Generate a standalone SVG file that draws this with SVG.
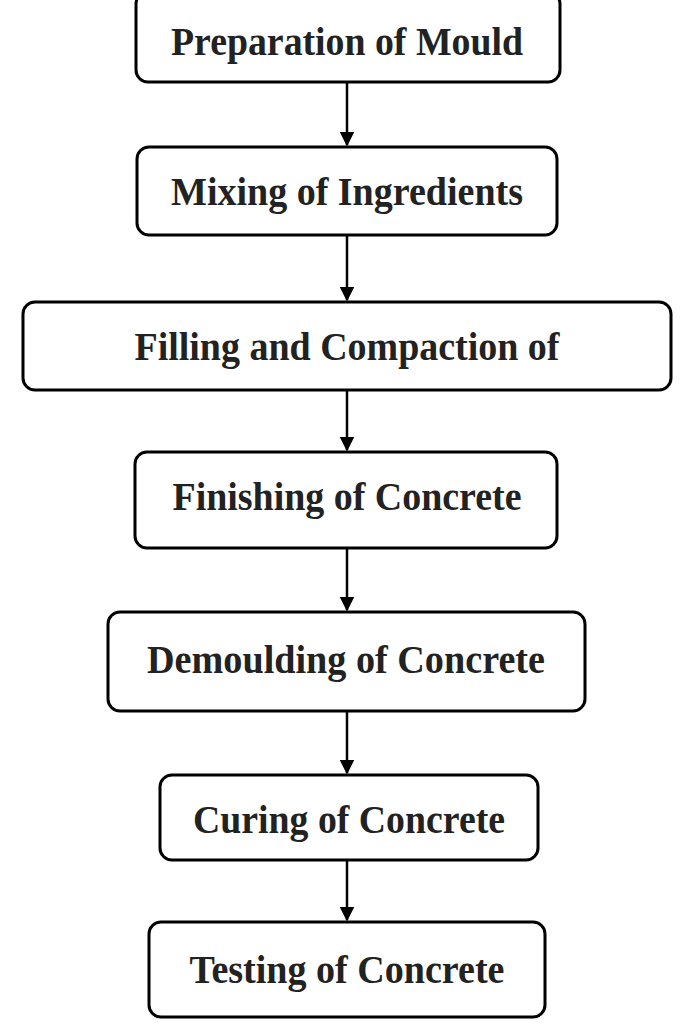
<svg xmlns="http://www.w3.org/2000/svg" width="689" height="1030" viewBox="0 0 689 1030">
<defs>
<style>
.b{fill:#fff;stroke:#000;stroke-width:3}
.t{font-family:"Liberation Serif",serif;font-weight:bold;font-size:40px;text-anchor:middle;fill:#222}
.c line{stroke:#000;stroke-width:2.5}
</style>
<marker id="a" viewBox="0 0 10 10" refX="9" refY="5" markerWidth="6" markerHeight="6" orient="auto"><path d="M0,0L10,5L0,10z" fill="#000"/></marker>
</defs>
<rect width="689" height="1030" fill="#fff"/>
<g class="c">
<line x1="347" y1="82" x2="347" y2="145" marker-end="url(#a)"/>
<line x1="347" y1="235" x2="347" y2="300" marker-end="url(#a)"/>
<line x1="347" y1="390" x2="347" y2="450" marker-end="url(#a)"/>
<line x1="347" y1="548" x2="347" y2="610" marker-end="url(#a)"/>
<line x1="347" y1="711" x2="347" y2="773" marker-end="url(#a)"/>
<line x1="347" y1="860" x2="347" y2="920" marker-end="url(#a)"/>
</g>
<g id="n1"><rect class="b" x="136" y="-8" width="424" height="90" rx="12"/><text class="t" x="347" y="55" textLength="352" lengthAdjust="spacingAndGlyphs">Preparation of Mould</text></g>
<g id="n2"><rect class="b" x="137" y="147" width="420" height="88" rx="12"/><text class="t" x="347" y="205" textLength="352" lengthAdjust="spacingAndGlyphs">Mixing of Ingredients</text></g>
<g id="n3"><rect class="b" x="23" y="302" width="648" height="88" rx="12"/><text class="t" x="347" y="360" textLength="425" lengthAdjust="spacingAndGlyphs">Filling and Compaction of</text></g>
<g id="n4"><rect class="b" x="135" y="452" width="422" height="96" rx="12"/><text class="t" x="347" y="510" textLength="349" lengthAdjust="spacingAndGlyphs">Finishing of Concrete</text></g>
<g id="n5"><rect class="b" x="108" y="612" width="477" height="99" rx="12"/><text class="t" x="346" y="673" textLength="398" lengthAdjust="spacingAndGlyphs">Demoulding of Concrete</text></g>
<g id="n6"><rect class="b" x="160" y="775" width="378" height="85" rx="12"/><text class="t" x="349" y="833" textLength="312" lengthAdjust="spacingAndGlyphs">Curing of Concrete</text></g>
<g id="n7"><rect class="b" x="149" y="922" width="396" height="95" rx="12"/><text class="t" x="347" y="983" textLength="315" lengthAdjust="spacingAndGlyphs">Testing of Concrete</text></g>
</svg>
